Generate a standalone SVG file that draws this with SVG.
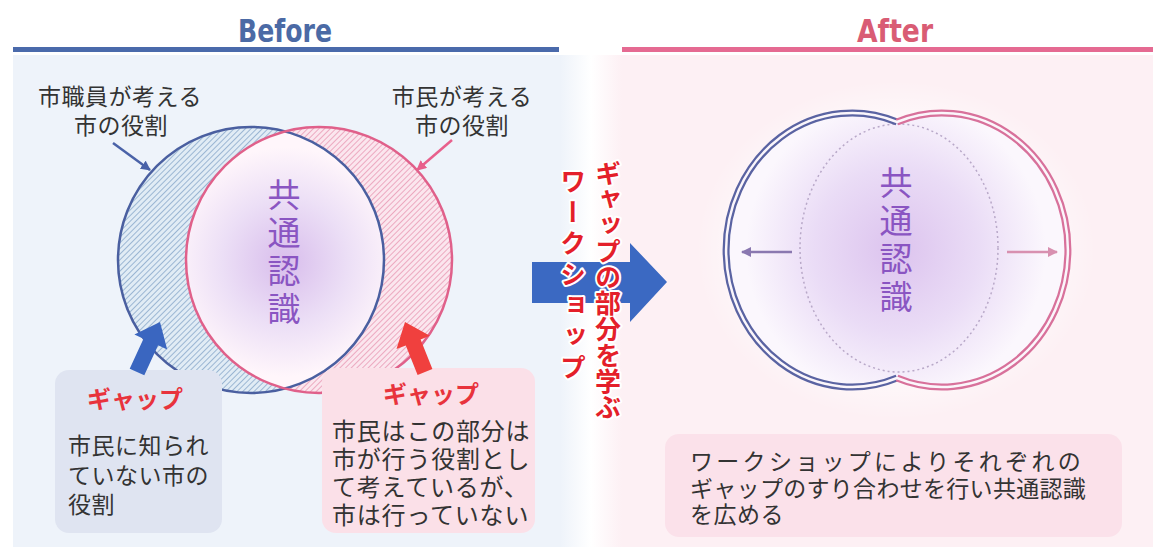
<svg xmlns="http://www.w3.org/2000/svg" width="1153" height="547" viewBox="0 0 1153 547">
<style>
.jp{font-family:"Noto Sans CJK JP","Noto Sans",sans-serif;}
.lbl{font-size:23px;fill:#333;letter-spacing:0.5px;}
.gap{font-size:24px;font-weight:bold;fill:#e8333c;}
.big{font-size:33px;fill:#8a55c2;writing-mode:vertical-rl;letter-spacing:5px;}
.red{font-size:26px;font-weight:bold;fill:#e41f2a;stroke:#fff;stroke-width:4px;paint-order:stroke;stroke-linejoin:round;writing-mode:vertical-rl;}
.hdr{font-family:"DejaVu Sans Condensed","Liberation Sans Narrow","DejaVu Sans",sans-serif;font-weight:bold;font-size:32px;}
</style>
<defs>
<pattern id="hb" width="4" height="4" patternUnits="userSpaceOnUse" patternTransform="rotate(45)">
<rect width="4" height="4" fill="#e1ecf5"/><line x1="0" y1="0" x2="0" y2="4" stroke="#89a9cb" stroke-width="1.6"/>
</pattern>
<pattern id="hp" width="4" height="4" patternUnits="userSpaceOnUse" patternTransform="rotate(45)">
<rect width="4" height="4" fill="#fbe6ee"/><line x1="0" y1="0" x2="0" y2="4" stroke="#e99ab4" stroke-width="1.6"/>
</pattern>
<radialGradient id="lens" cx="285" cy="262" r="115" gradientUnits="userSpaceOnUse">
<stop offset="0" stop-color="#d8bdec"/><stop offset="0.55" stop-color="#ecdff6"/><stop offset="1" stop-color="#fff6fb"/>
</radialGradient>
<radialGradient id="aft" cx="896" cy="250" r="150" gradientUnits="userSpaceOnUse">
<stop offset="0" stop-color="#dcc3ee"/><stop offset="0.55" stop-color="#eadcf6"/><stop offset="1" stop-color="#fbf7fd"/>
</radialGradient>
<radialGradient id="halo" cx="896" cy="250" r="200" gradientUnits="userSpaceOnUse" gradientTransform="translate(896 250) scale(1 0.85) translate(-896 -250)">
<stop offset="0.6" stop-color="#ffffff" stop-opacity="0.9"/><stop offset="1" stop-color="#ffffff" stop-opacity="0"/>
</radialGradient>
<linearGradient id="mid" x1="0" y1="0" x2="1" y2="0">
<stop offset="0" stop-color="#eef3fa"/><stop offset="0.5" stop-color="#ffffff"/><stop offset="1" stop-color="#fdf0f4"/>
</linearGradient>
<clipPath id="cpink"><circle cx="319" cy="260" r="133"/></clipPath>
<marker id="ab" viewBox="0 0 10 10" refX="9" refY="5" markerWidth="4" markerHeight="4" orient="auto"><path d="M0 0L10 5L0 10Z" fill="#4a62a8"/></marker>
<marker id="ap" viewBox="0 0 10 10" refX="9" refY="5" markerWidth="4" markerHeight="4" orient="auto"><path d="M0 0L10 5L0 10Z" fill="#e8608c"/></marker>
<marker id="av" viewBox="0 0 10 10" refX="9" refY="5" markerWidth="4" markerHeight="4" orient="auto"><path d="M0 0L10 5L0 10Z" fill="#8a78b0"/></marker>
<marker id="ak" viewBox="0 0 10 10" refX="9" refY="5" markerWidth="4" markerHeight="4" orient="auto"><path d="M0 0L10 5L0 10Z" fill="#d890b0"/></marker>
</defs>

<g id="backgrounds">
<rect x="0" y="0" width="1153" height="547" fill="#ffffff"/>
<rect x="13" y="55" width="547" height="492" fill="#eef3fa"/>
<rect x="560" y="55" width="62" height="492" fill="url(#mid)"/>
<rect x="622" y="55" width="531" height="492" fill="#fdf0f4"/>
<rect x="13" y="47" width="546" height="5" fill="#4a6aab"/>
<rect x="622" y="47" width="531" height="5" fill="#e56a92"/>
<text class="hdr" x="285" y="42" text-anchor="middle" fill="#4b6aa5" textLength="94" lengthAdjust="spacingAndGlyphs">Before</text>
<text class="hdr" x="895" y="42" text-anchor="middle" fill="#d95c74" textLength="76" lengthAdjust="spacingAndGlyphs">After</text>
</g>

<g id="venn-before">
<circle cx="251" cy="260" r="133" fill="url(#hb)"/>
<circle cx="319" cy="260" r="133" fill="url(#hp)"/>
<circle cx="251" cy="260" r="133" fill="url(#lens)" clip-path="url(#cpink)"/>
<circle cx="251" cy="260" r="133" fill="none" stroke="#4a5fa0" stroke-width="2.5"/>
<circle cx="319" cy="260" r="133" fill="none" stroke="#e0608a" stroke-width="2.5"/>
<text class="jp big" x="284" y="178">共通認識</text>
</g>

<g id="label-staff">
<text class="jp lbl" x="120" y="105" text-anchor="middle">市職員が考える</text>
<text class="jp lbl" x="121" y="134" text-anchor="middle">市の役割</text>
</g>
<g id="label-citizen">
<text class="jp lbl" x="462" y="105" text-anchor="middle">市民が考える</text>
<text class="jp lbl" x="462" y="134" text-anchor="middle">市の役割</text>
</g>

<g id="gap-left">
<rect x="55" y="370" width="167" height="163" rx="14" fill="#dfe4f1"/>
<text class="jp gap" x="135" y="408" text-anchor="middle">ギャップ</text>
<text class="jp lbl" x="68" y="454">市民に知られ</text>
<text class="jp lbl" x="68" y="484">ていない市の</text>
<text class="jp lbl" x="68" y="513">役割</text>
</g>

<g id="gap-right">
<rect x="322" y="368" width="213" height="165" rx="14" fill="#fbe0e8"/>
<text class="jp gap" x="431" y="403" text-anchor="middle">ギャップ</text>
<text class="jp lbl" x="332" y="440" style="font-size:24px;letter-spacing:0.8px">市民はこの部分は</text>
<text class="jp lbl" x="332" y="468" style="font-size:24px;letter-spacing:0.8px">市が行う役割とし</text>
<text class="jp lbl" x="332" y="496" style="font-size:24px;letter-spacing:0.8px">て考えているが、</text>
<text class="jp lbl" x="332" y="524" style="font-size:24px;letter-spacing:0.8px">市は行っていない</text>
</g>

<g id="middle">
<path d="M532 262H630V243L667 282L630 322V303H532Z" fill="#3b69c2"/>
<text class="jp red" x="608" y="160">ギャップの部分を学ぶ</text>
<text class="jp red" x="573" y="168" style="letter-spacing:5px">ワークショップ</text>
</g>

<g id="after-shape">
<ellipse cx="896" cy="250" rx="200" ry="170" fill="url(#halo)"/>
<path d="M897 122A126 137 0 1 0 897 378A126 137 0 1 0 897 122Z" fill="url(#aft)"/>
<ellipse cx="899" cy="248" rx="99" ry="124" fill="none" stroke="#b8a8c8" stroke-width="1.5" stroke-dasharray="2 3"/>
<path d="M897 122A126 137 0 1 0 897 378" fill="none" stroke="#5a63a2" stroke-width="7"/>
<path d="M897 122A126 137 0 1 1 897 378" fill="none" stroke="#d8719b" stroke-width="7"/>
<path d="M897 122A126 137 0 1 0 897 378A126 137 0 1 0 897 122Z" fill="none" stroke="#fbf6fb" stroke-width="2.5"/>
<text class="jp big" x="896" y="166">共通認識</text>
</g>

<g id="after-text">
<rect x="665" y="434" width="457" height="103" rx="14" fill="#fbe1ea"/>
<text class="jp lbl" x="690" y="470" style="letter-spacing:3.3px">ワークショップによりそれぞれの</text>
<text class="jp lbl" x="690" y="497" style="letter-spacing:0.3px">ギャップのすり合わせを行い共通認識</text>
<text class="jp lbl" x="690" y="523">を広める</text>
</g>

<g id="connectors">
<line x1="113" y1="143" x2="150" y2="170" stroke="#4a62a8" stroke-width="2.5" marker-end="url(#ab)"/>
<line x1="452" y1="140" x2="417" y2="170" stroke="#e8608c" stroke-width="2.5" marker-end="url(#ap)"/>
<polygon points="129.7,368.7 143.5,338.7 134.4,334.5 160,322 167.2,349.5 158.1,345.3 144.3,375.3" fill="#3a66c0"/>
<polygon points="417.6,375 405.8,345.4 396.5,349.1 405,322 429.9,335.7 420.6,339.4 432.4,369" fill="#f0403e"/>
<line x1="792" y1="252" x2="742" y2="252" stroke="#8a78b0" stroke-width="2.5" marker-end="url(#av)"/>
<line x1="1007" y1="252" x2="1057" y2="252" stroke="#d890b0" stroke-width="2.5" marker-end="url(#ak)"/>
</g>
</svg>
